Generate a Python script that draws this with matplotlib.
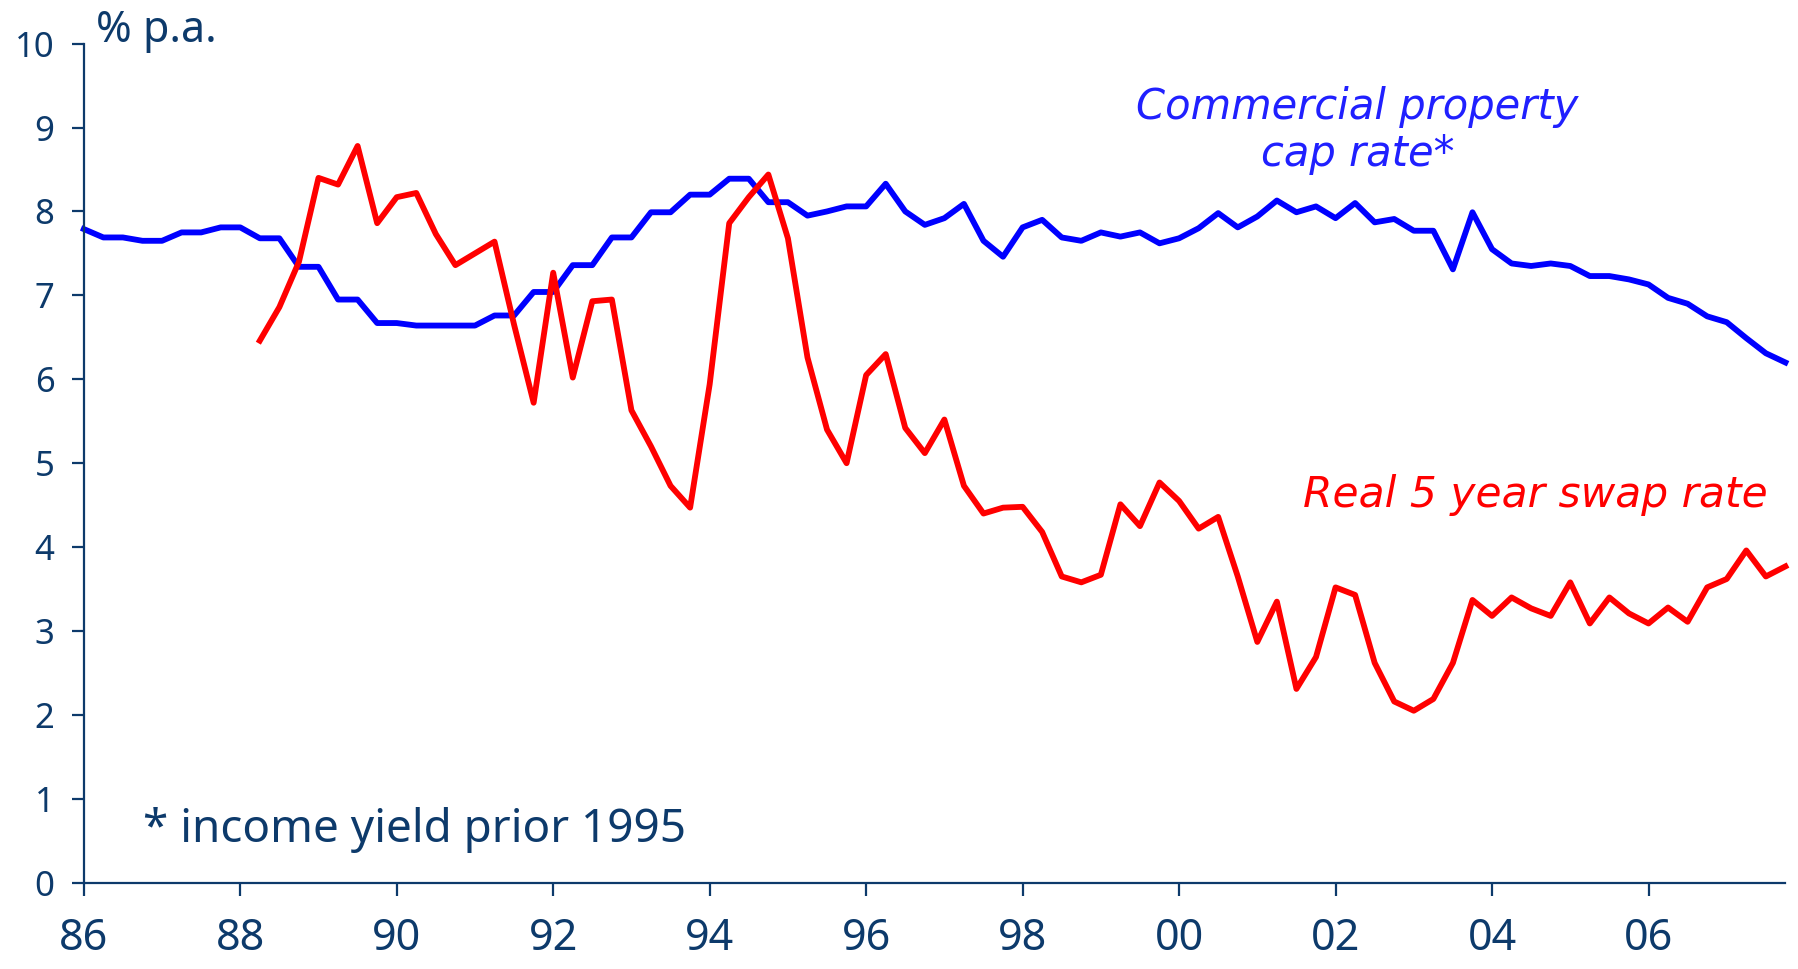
import numpy as np
import matplotlib.pyplot as plt

# Commercial property cap rate, quarterly from 1986 Q1
cap_rate = [7.79, 7.69, 7.69, 7.65, 7.65, 7.75, 7.75, 7.81, 7.81, 7.68,
            7.68, 7.34, 7.34, 6.95, 6.95, 6.67, 6.67, 6.64, 6.64, 6.64,
            6.64, 6.76, 6.76, 7.04, 7.04, 7.36, 7.36, 7.69, 7.69, 7.99,
            7.99, 8.20, 8.20, 8.39, 8.39, 8.11, 8.11, 7.95, 8.00, 8.06,
            8.06, 8.33, 8.00, 7.84, 7.92, 8.09, 7.65, 7.46, 7.81, 7.90,
            7.69, 7.65, 7.75, 7.70, 7.75, 7.62, 7.68, 7.80, 7.98, 7.81,
            7.94, 8.13, 7.99, 8.06, 7.92, 8.10, 7.87, 7.91, 7.77, 7.77,
            7.31, 7.99, 7.55, 7.38, 7.35, 7.38, 7.35, 7.23, 7.23, 7.19,
            7.13, 6.97, 6.90, 6.75, 6.68, 6.49, 6.31, 6.20]
cap_start = 1986.0

# Real 5 year swap rate, quarterly from 1988 Q2
swap_rate = [6.46, 6.86, 7.40, 8.40, 8.32, 8.78, 7.86, 8.17, 8.22, 7.73,
             7.36, 7.50, 7.64, 6.65, 5.72, 7.27, 6.02, 6.93, 6.95, 5.63,
             5.20, 4.73, 4.47, 5.94, 7.86, 8.17, 8.44, 7.68, 6.26, 5.40,
             5.00, 6.05, 6.30, 5.42, 5.12, 5.52, 4.73, 4.40, 4.47, 4.48,
             4.18, 3.65, 3.58, 3.67, 4.51, 4.25, 4.77, 4.55, 4.22, 4.36,
             3.65, 2.87, 3.35, 2.31, 2.69, 3.52, 3.43, 2.62, 2.16, 2.05,
             2.19, 2.62, 3.37, 3.18, 3.40, 3.27, 3.18, 3.58, 3.09, 3.40,
             3.21, 3.09, 3.28, 3.11, 3.52, 3.62, 3.96, 3.65, 3.77]
swap_start = 1988.25

x_ticks = np.arange(1986, 2007, 2)
x_labels = ['86', '88', '90', '92', '94', '96', '98', '00', '02', '04', '06']
y_ticks = np.arange(0, 11, 1)

navy = '#0d3a6b'

cap_x = cap_start + 0.25 * np.arange(len(cap_rate))
swap_x = swap_start + 0.25 * np.arange(len(swap_rate))

fig = plt.figure(figsize=(17.98, 9.69), dpi=100)
ax = fig.add_axes([0.0466, 0.089, 0.9464, 0.866])

ax.plot(cap_x, cap_rate, color='#0000ff', lw=4.2, solid_joinstyle='round', clip_on=False)
ax.plot(swap_x, swap_rate, color='#ff0000', lw=4.2, solid_joinstyle='round', clip_on=False)

ax.set_xlim(1986, 2007.75)
ax.set_ylim(0, 10)
ax.set_xticks(x_ticks)
ax.set_xticklabels(x_labels)
ax.set_yticks(y_ticks)

for s in ['top', 'right']:
    ax.spines[s].set_visible(False)
for s in ['left', 'bottom']:
    ax.spines[s].set_color(navy)
    ax.spines[s].set_linewidth(1.6)

ax.tick_params(axis='x', direction='out', length=9, width=1.6, color=navy,
               labelcolor=navy, labelsize=31, pad=16)
ax.tick_params(axis='y', direction='out', length=9, width=1.6, color=navy,
               labelcolor=navy, labelsize=25, pad=12)
for lab in ax.get_xticklabels() + ax.get_yticklabels():
    lab.set_family('Noto Sans')

# Textos
ax.text(1986.15, 10.15, '% p.a.', color=navy, fontsize=31, family='Noto Sans',
        ha='left', va='center', clip_on=False)
ax.text(2002.28, 8.97, 'Commercial property\ncap rate*', color='#2020ff',
        fontsize=30, style='italic', family='DejaVu Sans', ha='center',
        va='center', linespacing=1.15)
ax.text(2007.52, 4.62, 'Real 5 year swap rate', color='#ff0000',
        fontsize=30.5, style='italic', family='DejaVu Sans', ha='right',
        va='center')
ax.text(1986.76, 0.63, '* income yield prior 1995', color=navy,
        fontsize=33, family='Noto Sans', ha='left', va='center')

fig.savefig('out.png', dpi=100)
